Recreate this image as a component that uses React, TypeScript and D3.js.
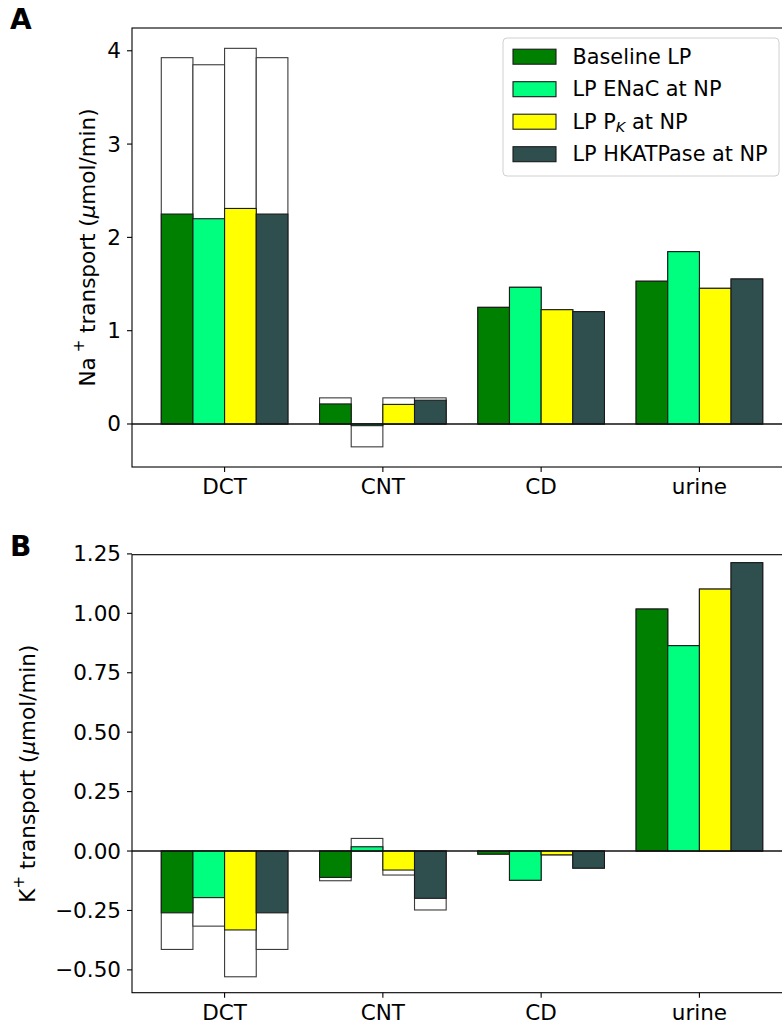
import React from "react";
import * as d3 from "d3";

const categories = ["DCT", "CNT", "CD", "urine"];
const seriesNames = ["Baseline LP", "LP ENaC at NP", "LP P_K at NP", "LP HKATPase at NP"];
const seriesColors = ["#008000", "#00ff7f", "#ffff00", "#2f4f4f"];

// Na+ transport: coloured (net) and white (outline) values
const naBaseline = [2.25, 0.215, 1.25, 1.53];
const naEnac = [2.2, -0.018, 1.465, 1.847];
const naPk = [2.31, 0.21, 1.225, 1.454];
const naHka = [2.25, 0.255, 1.204, 1.554];
const naBaselineTotal = [3.926, 0.28, 1.25, 1.53];
const naEnacTotal = [3.85, -0.245, 1.465, 1.847];
const naPkTotal = [4.026, 0.28, 1.225, 1.454];
const naHkaTotal = [3.926, 0.28, 1.204, 1.554];

// K+ transport
const kBaseline = [-0.26, -0.111, -0.013, 1.018];
const kEnac = [-0.196, 0.018, -0.123, 0.864];
const kPk = [-0.332, -0.08, -0.016, 1.102];
const kHka = [-0.26, -0.199, -0.072, 1.213];
const kBaselineTotal = [-0.414, -0.125, -0.013, 1.018];
const kEnacTotal = [-0.316, 0.053, -0.123, 0.864];
const kPkTotal = [-0.529, -0.101, -0.016, 1.102];
const kHkaTotal = [-0.414, -0.248, -0.072, 1.213];

const naTicks = [0, 1, 2, 3, 4];
const kTicks = [-0.5, -0.25, 0, 0.25, 0.5, 0.75, 1.0, 1.25];

const FONT = "DejaVu Sans, sans-serif";
const W = 782;
const H = 1025;
const AX_LEFT = 132;
const AX_RIGHT = 792;
const BAR_W = 0.2;

const x = d3.scaleLinear().domain([-0.585, 3.585]).range([AX_LEFT, AX_RIGHT]);

type PanelProps = {
  top: number;
  bottom: number;
  domain: [number, number];
  ticks: number[];
  fmt: (v: number) => string;
  net: number[][];
  total: number[][];
  label: string;
  ylabel: React.ReactNode;
  ylabelX: number;
  legend?: boolean;
};

function Panel(p: PanelProps) {
  const y = d3.scaleLinear().domain(p.domain).range([p.bottom, p.top]);
  const offsets = [-1.5, -0.5, 0.5, 1.5].map((k) => k * BAR_W);
  const rect = (ci: number, si: number, v: number, fill: string, stroke: string, key: string) => {
    const cx = ci + offsets[si];
    const x0 = x(cx - BAR_W / 2);
    const x1 = x(cx + BAR_W / 2);
    const y0 = y(Math.max(0, v));
    const y1 = y(Math.min(0, v));
    return (
      <rect key={key} x={x0} y={y0} width={x1 - x0} height={Math.max(0.01, y1 - y0)}
        fill={fill} stroke={stroke} strokeWidth={1.1} />
    );
  };
  const midY = (p.top + p.bottom) / 2;
  return (
    <g>
      <text x={10} y={p.top + 1} fontFamily={FONT} fontWeight="bold" fontSize={28}>{p.label}</text>
      {/* white (total) bars */}
      {p.total.map((vals, si) => vals.map((v, ci) => rect(ci, si, v, "#ffffff", "#3a3a3a", `w${si}-${ci}`)))}
      {/* coloured bars */}
      {p.net.map((vals, si) => vals.map((v, ci) => rect(ci, si, v, seriesColors[si], "#1a1a1a", `c${si}-${ci}`)))}
      {/* zero line */}
      <line x1={AX_LEFT} x2={AX_RIGHT} y1={y(0)} y2={y(0)} stroke="#111" strokeWidth={1.6} />
      {/* spines */}
      <rect x={AX_LEFT} y={p.top} width={AX_RIGHT - AX_LEFT} height={p.bottom - p.top}
        fill="none" stroke="#000" strokeWidth={1.1} />
      {/* y ticks */}
      {p.ticks.map((t) => (
        <g key={`yt${t}`}>
          <line x1={AX_LEFT - 5} x2={AX_LEFT} y1={y(t)} y2={y(t)} stroke="#000" strokeWidth={1.1} />
          <text x={AX_LEFT - 11} y={y(t)} textAnchor="end" dominantBaseline="central"
            fontFamily={FONT} fontSize={21.5} fill="#000">{p.fmt(t)}</text>
        </g>
      ))}
      {/* x ticks */}
      {categories.map((c, i) => (
        <g key={`xt${c}`}>
          <line x1={x(i)} x2={x(i)} y1={p.bottom} y2={p.bottom + 5} stroke="#000" strokeWidth={1.1} />
          <text x={x(i)} y={p.bottom + 27} textAnchor="middle" fontFamily={FONT} fontSize={21.5} fill="#000">{c}</text>
        </g>
      ))}
      {/* y label */}
      <text transform={`translate(${p.ylabelX},${midY}) rotate(-90)`} textAnchor="middle"
        dominantBaseline="central" fontFamily={FONT} fontSize={21.5} fill="#000">{p.ylabel}</text>
      {p.legend && (
        <g>
          <rect x={503} y={38} width={276} height={138} rx={4} fill="#ffffff" fillOpacity={0.8}
            stroke="#d0d0d0" strokeWidth={1} />
          {seriesNames.map((s, i) => {
            const cy = 56.7 + i * 32.5;
            return (
              <g key={s}>
                <rect x={513} y={cy - 7.5} width={43} height={15} fill={seriesColors[i]} stroke="#1a1a1a" strokeWidth={1.1} />
                <text x={572.5} y={cy} dominantBaseline="central" fontFamily={FONT} fontSize={20.8} fill="#000">
                  {s === "LP P_K at NP" ? (
                    <>
                      <tspan>LP P</tspan>
                      <tspan fontStyle="italic" fontSize={14.5} dy={5}>K</tspan>
                      <tspan dy={-5}> at NP</tspan>
                    </>
                  ) : s}
                </text>
              </g>
            );
          })}
        </g>
      )}
    </g>
  );
}

export default function App() {
  return (
    <svg width={W} height={H} style={{ position: "absolute", left: 0, top: 0, background: "#fff" }}>
      <rect x={0} y={0} width={W} height={H} fill="#fff" />
      <Panel
        top={28}
        bottom={467}
        domain={[-0.461, 4.244]}
        ticks={naTicks}
        fmt={(v) => d3.format("d")(v)}
        net={[naBaseline, naEnac, naPk, naHka]}
        total={[naBaselineTotal, naEnacTotal, naPkTotal, naHkaTotal]}
        label="A"
        ylabelX={87}
        legend
        ylabel={
          <>
            <tspan>Na</tspan>
            <tspan fontSize={15} dx={5} dy={-8}>+</tspan>
            <tspan dy={8}> transport (</tspan>
            <tspan fontStyle="italic">μ</tspan>
            <tspan>mol/min)</tspan>
          </>
        }
      />
      <Panel
        top={554.7}
        bottom={992.7}
        domain={[-0.596, 1.2466]}
        ticks={kTicks}
        fmt={(v) => d3.format(".2f")(v).replace("-", "\u2212")}
        net={[kBaseline, kEnac, kPk, kHka]}
        total={[kBaselineTotal, kEnacTotal, kPkTotal, kHkaTotal]}
        label="B"
        ylabelX={27}
        ylabel={
          <>
            <tspan>K</tspan>
            <tspan fontSize={15} dy={-8}>+</tspan>
            <tspan dy={8}> transport (</tspan>
            <tspan fontStyle="italic">μ</tspan>
            <tspan>mol/min)</tspan>
          </>
        }
      />
    </svg>
  );
}
